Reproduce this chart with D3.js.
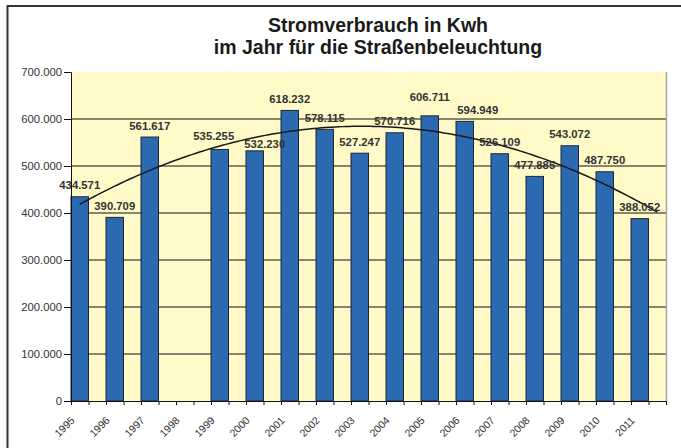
<!DOCTYPE html>
<meta charset="utf-8">
<script src="https://d3js.org/d3.v7.min.js"></script>
<style>
  body { margin: 0; background: #fff; }
  text { font-family: "Liberation Sans", Arial, sans-serif; }
</style>
<div id="chart"></div>
<script>
// data
var years = ["1995", "1996", "1997", "1998", "1999", "2000", "2001", "2002", "2003",
             "2004", "2005", "2006", "2007", "2008", "2009", "2010", "2011"];
var kwh = [434571, 390709, 561617, null, 535255, 532230, 618232, 578115, 527247,
           570716, 606711, 594949, 526109, 477885, 543072, 487750, 388052];
var yTicks = [0, 100000, 200000, 300000, 400000, 500000, 600000, 700000];
var titleLines = ["Stromverbrauch in Kwh", "im Jahr für die Straßenbeleuchtung"];

var W = 681, H = 448;
var plot = {left: 71, right: 666, top: 72, bottom: 401};

// a few value labels were dragged by hand in the original
var labelNudge = {"1999": [-6, -1.5], "2000": [10, 5], "2005": [0, -7.5], "2006": [13, 0]};

var de = d3.formatLocale({decimal: ",", thousands: ".", grouping: [3], currency: ["", " €"]});
var fmt = de.format(",");

var svg = d3.select("#chart").append("svg")
    .attr("width", W).attr("height", H);

// outer frame (only top and left edges are in view)
svg.append("path")
    .attr("d", "M7.5,448 V6 H681")
    .attr("fill", "none").attr("stroke", "#333").attr("stroke-width", 2);

// title
svg.selectAll(".title")
  .data(titleLines)
  .enter().append("text")
    .attr("x", 378)
    .attr("y", function(d, i) { return 32 + i * 22; })
    .attr("text-anchor", "middle")
    .attr("font-size", "19.5px")
    .attr("font-weight", "bold")
    .attr("fill", "#1a1a1a")
    .text(function(d) { return d; });

var x = d3.scaleBand().domain(years).range([plot.left, plot.right]);
var xi = d3.scaleLinear().domain([0, years.length]).range([plot.left, plot.right]);
var y = d3.scaleLinear().domain([0, 700000]).range([plot.bottom, plot.top]);

// plot background
svg.append("rect")
    .attr("x", plot.left).attr("y", plot.top)
    .attr("width", plot.right - plot.left).attr("height", plot.bottom - plot.top)
    .attr("fill", "#fffac8");

// gridlines
svg.selectAll(".grid")
  .data(yTicks.filter(function(d) { return d > 0 && d < 700000; }))
  .enter().append("line")
    .attr("x1", plot.left).attr("x2", plot.right)
    .attr("y1", function(d) { return y(d); })
    .attr("y2", function(d) { return y(d); })
    .attr("stroke", "#111").attr("stroke-width", 1);

// right border of plot area
svg.append("line")
    .attr("x1", plot.right + 0.5).attr("x2", plot.right + 0.5)
    .attr("y1", plot.top).attr("y2", plot.bottom)
    .attr("stroke", "#a8a8a8").attr("stroke-width", 1.5);

// bars take the left half of each year slot
var present = years.map(function(yr, i) { return {year: yr, i: i, v: kwh[i]}; })
    .filter(function(d) { return d.v != null; });

svg.selectAll(".bar")
  .data(present)
  .enter().append("rect")
    .attr("x", function(d) { return x(d.year); })
    .attr("y", function(d) { return y(d.v); })
    .attr("width", x.bandwidth() / 2)
    .attr("height", function(d) { return y(0) - y(d.v); })
    .attr("fill", "#2b69b1")
    .attr("stroke", "#1d2733").attr("stroke-width", 1);

// polynomial (2nd order) trend line, least squares over the present points
function quadFit(pts) {
  var s = [0, 0, 0, 0, 0], t = [0, 0, 0];
  pts.forEach(function(p) {
    var xp = 1;
    for (var k = 0; k < 5; k++) { s[k] += xp; xp *= p[0]; }
    t[0] += p[1]; t[1] += p[0] * p[1]; t[2] += p[0] * p[0] * p[1];
  });
  var A = [[s[0], s[1], s[2], t[0]], [s[1], s[2], s[3], t[1]], [s[2], s[3], s[4], t[2]]];
  for (var c = 0; c < 3; c++) {
    for (var r = c + 1; r < 3; r++) {
      var f = A[r][c] / A[c][c];
      for (var k = c; k < 4; k++) A[r][k] -= f * A[c][k];
    }
  }
  var b = [0, 0, 0];
  for (var r = 2; r >= 0; r--) {
    var sum = A[r][3];
    for (var k = r + 1; k < 3; k++) sum -= A[r][k] * b[k];
    b[r] = sum / A[r][r];
  }
  return function(v) { return b[0] + b[1] * v + b[2] * v * v; };
}
var trend = quadFit(present.map(function(d) { return [d.i + 1, d.v]; }));
// excel runs the curve on to the end of the last (empty) half slot
var tPts = d3.range(0, years.length - 0.5 + 0.001, 0.1);
svg.append("path")
    .datum(tPts)
    .attr("fill", "none").attr("stroke", "#1a1a1a").attr("stroke-width", 1.5)
    .attr("d", d3.line()
      .x(function(t) { return xi(t + 0.25); })
      .y(function(t) { return y(trend(t + 1)); }));

// value labels
svg.selectAll(".val")
  .data(present)
  .enter().append("text")
    .attr("x", function(d) {
      var n = labelNudge[d.year] || [0, 0];
      return x(d.year) + x.bandwidth() / 4 + n[0];
    })
    .attr("y", function(d) {
      var n = labelNudge[d.year] || [0, 0];
      return y(d.v) - 7.5 + n[1];
    })
    .attr("text-anchor", "middle")
    .attr("font-size", "11.3px")
    .attr("font-weight", "bold")
    .attr("fill", "#333")
    .text(function(d) { return fmt(d.v); });

// y axis
var yAxis = svg.append("g")
    .attr("transform", "translate(" + plot.left + ",0)")
    .call(d3.axisLeft(y).tickValues(yTicks).tickSize(7).tickPadding(2)
      .tickFormat(function(d) { return fmt(d); }));
yAxis.select(".domain").attr("stroke", "#111");
yAxis.selectAll(".tick line").attr("stroke", "#111");
yAxis.selectAll("text")
    .attr("font-family", "Liberation Sans, Arial, sans-serif")
    .attr("font-size", "11.3px").attr("fill", "#333");

// x axis: a tick at each half slot, label at each slot start
var xAxis = svg.append("g")
    .attr("transform", "translate(0," + plot.bottom + ")")
    .call(d3.axisBottom(xi)
      .tickValues(d3.range(0, years.length * 2 + 1).map(function(k) { return k / 2; }))
      .tickSize(4).tickSizeOuter(0)
      .tickFormat(function(d) { return Number.isInteger(d) && d < years.length ? years[d] : ""; }));
xAxis.select(".domain").attr("stroke", "#111");
xAxis.selectAll(".tick line").attr("stroke", "#111");
xAxis.selectAll("text")
    .attr("font-family", "Liberation Sans, Arial, sans-serif")
    .attr("font-size", "10.5px").attr("fill", "#333")
    .attr("text-anchor", "end")
    .attr("dy", null).attr("y", null)
    .attr("transform", "translate(4,20) rotate(-45)");
</script>
